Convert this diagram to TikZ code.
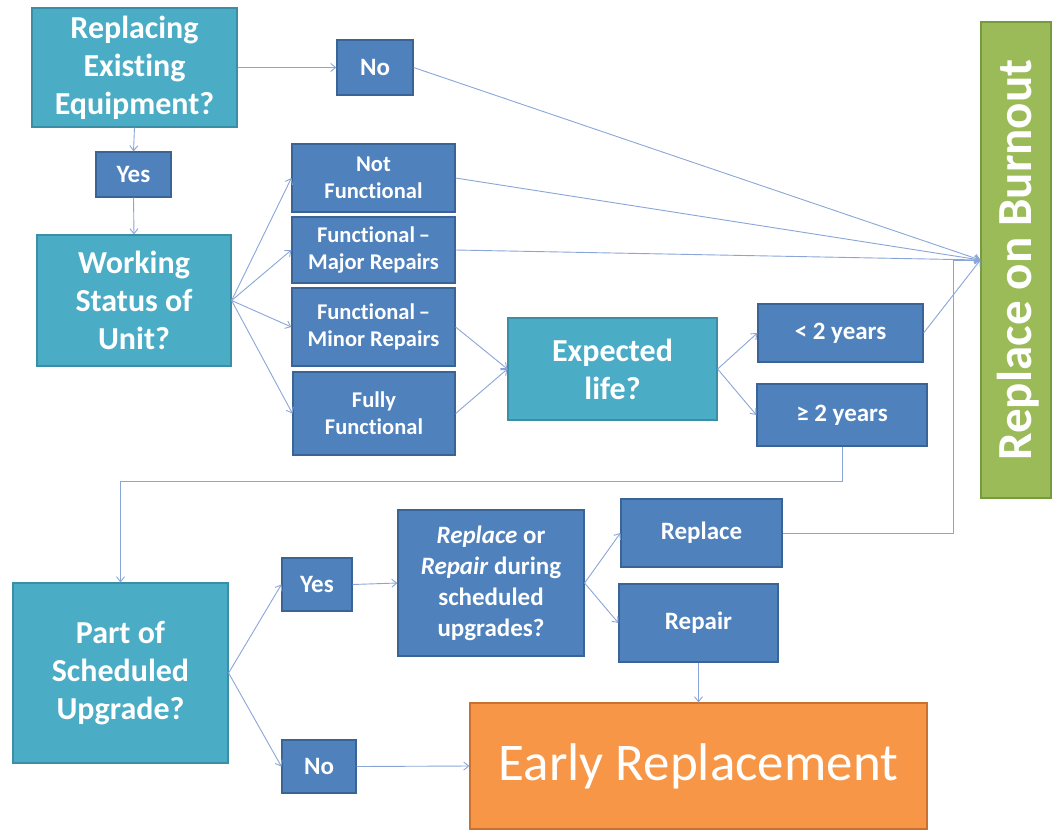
\documentclass[tikz,border=0pt]{standalone}
\usepackage{fontspec}
\setmainfont{Carlito}[Ligatures=NoCommon]
\usetikzlibrary{arrows.meta}
\definecolor{tealf}{HTML}{4BACC6}
\definecolor{tealb}{HTML}{3A8EA6}
\definecolor{bluef}{HTML}{4F81BD}
\definecolor{blueb}{HTML}{3A6396}
\definecolor{greenf}{HTML}{9BBB59}
\definecolor{greenb}{HTML}{779A3E}
\definecolor{orangef}{HTML}{F79646}
\definecolor{orangeb}{HTML}{C87130}
\definecolor{linec}{HTML}{8AA6D8}
\tikzset{
  boxbase/.style={draw, line width=1.2pt, inner sep=0pt, align=center, text=white},
  tealbox/.style={boxbase, fill=tealf, draw=tealb, font=\fontsize{32}{38}\selectfont\bfseries},
  bluebox/.style={boxbase, fill=bluef, draw=blueb, font=\fontsize{25}{30}\selectfont\bfseries},
  statbox/.style={boxbase, fill=bluef, draw=blueb, font=\fontsize{22.5}{27}\selectfont\bfseries},
  conn/.style={draw=linec, line width=0.9pt, -{Straight Barb[length=5pt,width=8pt]}},
}
\begin{document}
\begin{tikzpicture}[x=1pt,y=-1pt]
\useasboundingbox[fill=white] (0,0) rectangle (1052,831);
% nodes
\node[tealbox, minimum width=205pt, minimum height=119pt] (rep) at (134.5,67.5) {Replacing\\Existing\\Equipment?};
\node[bluebox, minimum width=76pt, minimum height=55pt] (no1) at (375,67.5) {No};
\node[bluebox, minimum width=75pt, minimum height=45pt] (yes1) at (133.5,174.5) {Yes};
\node[tealbox, minimum width=194pt, minimum height=131pt] (work) at (134,300.5) {Working\\Status of\\Unit?};
\node[statbox, minimum width=163pt, minimum height=68pt] (notf) at (373.5,178) {Not\\Functional};
\node[statbox, minimum width=163pt, minimum height=66pt] (major) at (373.5,250) {Functional\,--\\Major Repairs};
\node[statbox, minimum width=163pt, minimum height=78pt] (minor) at (373.5,327) {Functional\,--\\Minor Repairs};
\node[statbox, minimum width=162pt, minimum height=83pt] (fully) at (374,413.5) {Fully\\Functional};
\node[tealbox, minimum width=209pt, minimum height=102pt] (exp) at (612.5,369) {Expected\\life?};
\node[bluebox, minimum width=165pt, minimum height=58pt] (lt2) at (840.5,333) {< 2 years};
\node[bluebox, minimum width=170pt, minimum height=62pt] (ge2) at (842,415) {≥ 2 years};
\node[boxbase, fill=greenf, draw=greenb, minimum width=70pt, minimum height=476pt] (burn) at (1016,260) {};
\node[rotate=90, text=white, font=\fontsize{49}{58}\selectfont\bfseries] (burntxt) at ([xshift=2pt]burn.center) {Replace on Burnout};
\node[tealbox, minimum width=215pt, minimum height=180pt] (part) at (120.5,673) {Part of\\Scheduled\\Upgrade?};
\node[bluebox, minimum width=70pt, minimum height=53pt] (yes2) at (317,584.5) {Yes};
\node[bluebox, minimum width=74pt, minimum height=53pt] (no2) at (319,766.5) {No};
\node[bluebox, minimum width=186pt, minimum height=146pt, font=\fontsize{25}{31}\selectfont\bfseries] (ror) at (491,583) {\textit{Replace} or\\\textit{Repair} during\\scheduled\\upgrades?};
\node[bluebox, minimum width=161pt, minimum height=68pt] (replace) at (701.5,533) {Replace};
\node[bluebox, minimum width=159pt, minimum height=78pt] (repair) at (698.5,623) {Repair};
\node[boxbase, fill=orangef, draw=orangeb, minimum width=457pt, minimum height=126pt, font=\fontsize{53}{62}\selectfont] (early) at (698.5,766) {Early Replacement};
% connectors
\draw[conn] (rep.east) -- (no1.west);
\draw[conn] (rep.south) -- (yes1.north);
\draw[conn] (yes1.south) -- (work.north);
\draw[conn] (no1.east) -- (burn.west);
\draw[conn] (work.east) -- (notf.west);
\draw[conn] (work.east) -- (major.west);
\draw[conn] (work.east) -- (minor.west);
\draw[conn] (work.east) -- (fully.west);
\draw[conn] (notf.east) -- (burn.west);
\draw[conn] (major.east) -- (burn.west);
\draw[conn] (minor.east) -- (exp.west);
\draw[conn] (fully.east) -- (exp.west);
\draw[conn] (exp.east) -- (lt2.west);
\draw[conn] (exp.east) -- (ge2.west);
\draw[conn] (lt2.east) -- (burn.west);
\draw[conn] (ge2.south) -- ++(0,35) -| (part.north);
\draw[conn] (part.east) -- (yes2.west);
\draw[conn] (part.east) -- (no2.west);
\draw[conn] (yes2.east) -- (ror.west);
\draw[conn] (no2.east) -- (early.west);
\draw[conn] (ror.east) -- (replace.west);
\draw[conn] (ror.east) -- (repair.west);
\coordinate (rturn) at (953,533);
\draw[conn] (replace.east) -- (rturn) |- (burn.west);
\draw[conn] (repair.south) -- (early.north);
\end{tikzpicture}
\end{document}
